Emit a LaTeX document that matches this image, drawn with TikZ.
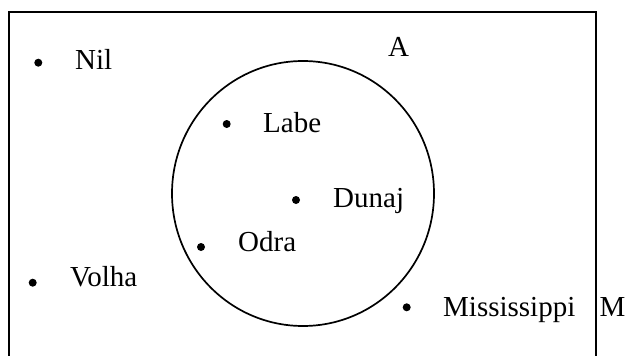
\documentclass[tikz,border=0pt]{standalone}
\usepackage{fontspec}
\setmainfont{Liberation Serif}
\begin{document}
\begin{tikzpicture}[x=1pt,y=-1pt,
  dot/.style={circle,fill=black,inner sep=0pt,minimum size=8pt},
  lbl/.style={anchor=base west,inner sep=0pt,font=\fontsize{29}{31}\selectfont},
  frame/.style={line width=1.9pt},
  setline/.style={line width=1.7pt}]
\useasboundingbox (0,0) rectangle (627,356);
% universal set M (open at the bottom)
\draw[frame] (9,356) -- (9,12.3) -- (596,12.3) -- (596,356);
\node[lbl] (Mlab) at (599.5,316.7) {M};
% set A
\draw[setline] (303,193.5) ellipse [x radius=131, y radius=132.5];
\node[lbl] (Alab) at (388,56.7) {A};
% rivers
\node[dot] (nil) at (38.3,62.7) {};
\node[lbl] (nilt) at (75,69.3) {Nil};
\node[dot] (labe) at (226.7,124) {};
\node[lbl] (labet) at (263,132) {Labe};
\node[dot] (dunaj) at (296,200) {};
\node[lbl] (dunajt) at (333,207) {Dunaj};
\node[dot] (odra) at (201,247) {};
\node[lbl] (odrat) at (238,251.7) {Odra};
\node[dot] (volha) at (32.7,282.7) {};
\node[lbl] (volhat) at (70,286.7) {Volha};
\node[dot] (miss) at (406.7,307.3) {};
\node[lbl] (misst) at (443,316.7) {Mississippi};
\end{tikzpicture}
\end{document}
